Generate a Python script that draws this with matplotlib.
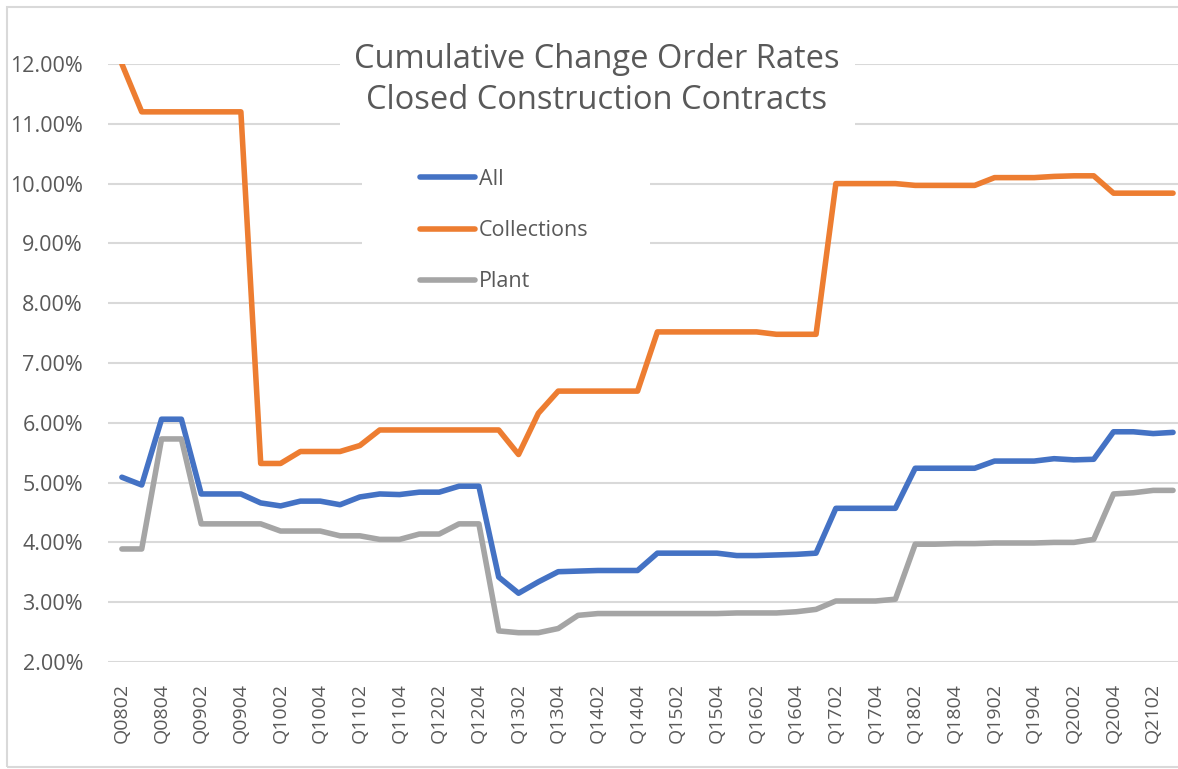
import matplotlib
matplotlib.use("Agg")
import matplotlib.pyplot as plt
import matplotlib.ticker as ticker
from matplotlib.patches import Rectangle

plt.rcParams['font.family'] = ['Open Sans', 'DejaVu Sans']

W, H = 1178, 769

# quarters Q0802 .. Q2103
quarters = []
for yy in range(8, 22):
    for q in range(1, 5):
        quarters.append("Q%02d0%d" % (yy, q))
quarters = quarters[1:55]

all_rate = [5.09, 4.96, 6.06, 6.06, 4.81, 4.81, 4.81, 4.66, 4.61, 4.69,
            4.69, 4.63, 4.76, 4.81, 4.80, 4.84, 4.84, 4.94, 4.94, 3.42,
            3.15, 3.34, 3.51, 3.52, 3.53, 3.53, 3.53, 3.82, 3.82, 3.82,
            3.82, 3.78, 3.78, 3.79, 3.80, 3.82, 4.57, 4.57, 4.57, 4.57,
            5.24, 5.24, 5.24, 5.24, 5.36, 5.36, 5.36, 5.40, 5.38, 5.39,
            5.85, 5.85, 5.82, 5.84]
collections = [12.00, 11.20, 11.20, 11.20, 11.20, 11.20, 11.20, 5.32, 5.32, 5.52,
               5.52, 5.52, 5.62, 5.88, 5.88, 5.88, 5.88, 5.88, 5.88, 5.88,
               5.47, 6.16, 6.53, 6.53, 6.53, 6.53, 6.53, 7.52, 7.52, 7.52,
               7.52, 7.52, 7.52, 7.48, 7.48, 7.48, 10.00, 10.00, 10.00, 10.00,
               9.97, 9.97, 9.97, 9.97, 10.10, 10.10, 10.10, 10.12, 10.13, 10.13,
               9.84, 9.84, 9.84, 9.84]
plant = [3.89, 3.89, 5.73, 5.73, 4.31, 4.31, 4.31, 4.31, 4.19, 4.19,
         4.19, 4.11, 4.11, 4.05, 4.05, 4.14, 4.14, 4.31, 4.31, 2.52,
         2.49, 2.49, 2.56, 2.78, 2.81, 2.81, 2.81, 2.81, 2.81, 2.81,
         2.81, 2.82, 2.82, 2.82, 2.84, 2.88, 3.02, 3.02, 3.02, 3.05,
         3.97, 3.97, 3.98, 3.98, 3.99, 3.99, 3.99, 4.00, 4.00, 4.05,
         4.81, 4.83, 4.87, 4.87]

series_names = ["All", "Collections", "Plant"]
colors = ["#4472C4", "#ED7D31", "#A5A5A5"]
text_grey = "#595959"

fig = plt.figure(figsize=(W / 100, H / 100), dpi=100)
ax = fig.add_axes([108 / W, 107 / H, 1 - 108 / W, (662 - 64) / H])

x = list(range(len(quarters)))
for vals, name, c in zip([all_rate, collections, plant], series_names, colors):
    ax.plot(x, [v / 100 for v in vals], color=c, lw=4, label=name,
            solid_capstyle="round", solid_joinstyle="round", zorder=3)

ax.set_xlim(-0.7, 53.25)
ax.set_ylim(0.02, 0.12)
ax.yaxis.set_major_locator(ticker.MultipleLocator(0.01))
ax.yaxis.set_major_formatter(ticker.FuncFormatter(lambda v, p: "%.2f%%" % (v * 100)))
ax.set_xticks(x[::2])
ax.set_xticklabels(quarters[::2], rotation=90)
ax.tick_params(axis="y", length=0, pad=18, labelsize=15.5, labelcolor=text_grey)
ax.tick_params(axis="x", length=0, pad=15, labelsize=14, labelcolor=text_grey)
ax.grid(axis="y", color="#d9d9d9", lw=1.5, zorder=0)
ax.set_axisbelow(True)
for s in ax.spines.values():
    s.set_visible(False)


def white_box(x0, y0, x1, y1):
    # pixel box (top-left origin) that hides the gridlines behind title/legend
    ax.add_patch(Rectangle((x0 / W, 1 - y1 / H), (x1 - x0) / W, (y1 - y0) / H,
                           transform=fig.transFigure, facecolor="white",
                           edgecolor="none", zorder=2))


white_box(340, 30, 855, 135)
white_box(362, 150, 650, 300)

fig.text(597 / W, 1 - 80 / H, "Cumulative Change Order Rates\nClosed Construction Contracts",
         ha="center", va="center", fontsize=23.5, color=text_grey,
         linespacing=1.35, zorder=5)

leg = ax.legend(loc="upper left", bbox_to_anchor=(420 / W, 1 - 169 / H),
                bbox_transform=fig.transFigure, frameon=False, fontsize=15.5,
                handlelength=2.55, handletextpad=0.2, labelspacing=1.4,
                borderpad=0, borderaxespad=0)
leg.set_zorder(6)
for t in leg.get_texts():
    t.set_color(text_grey)

fig.patches.append(Rectangle((7 / W, 2 / H), 1.2, 1 - 9 / H,
                             transform=fig.transFigure, fill=False,
                             edgecolor="#d9d9d9", lw=1.5))

fig.savefig("out.png", dpi=100)
